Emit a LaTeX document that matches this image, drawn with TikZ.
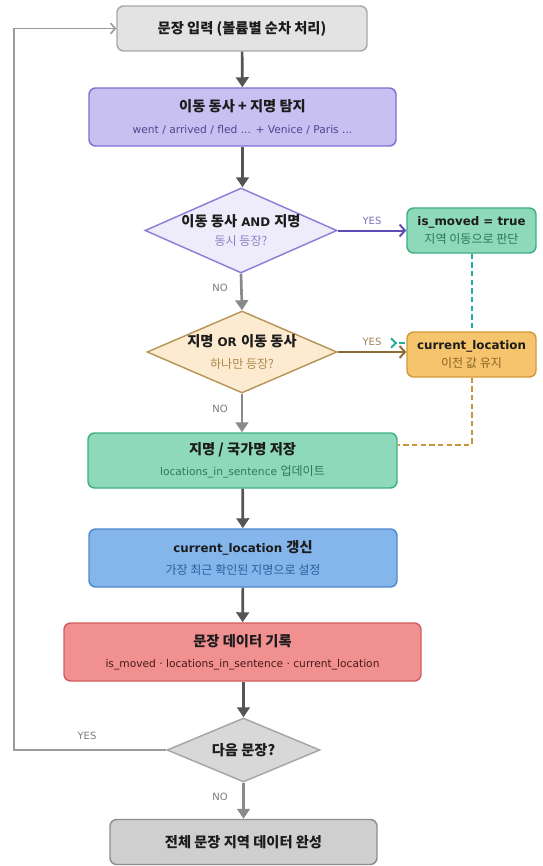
\documentclass[tikz,border=0pt]{standalone}
\usepackage{fontspec}
\setmainfont{DejaVu Sans}
\newfontfamily\kof[Scale=1.2]{Noto Sans CJK KR}
\newfontfamily\kofs[Scale=1.13]{Noto Sans CJK KR}
\newcommand\K[1]{{\kof #1}}
\newcommand\Ks[1]{{\kofs #1}}
\newcommand\tfont{\fontsize{8.9pt}{11pt}\selectfont\bfseries}
\newcommand\sfont{\fontsize{8pt}{10pt}\selectfont}
\usetikzlibrary{shapes.geometric,arrows.meta,backgrounds}
\definecolor{txt}{HTML}{1C1C1C}
\definecolor{grayF}{HTML}{E3E3E3}\definecolor{grayB}{HTML}{A8A8A8}
\definecolor{purF}{HTML}{C8C0F0}\definecolor{purB}{HTML}{7E70D4}\definecolor{purS}{HTML}{4E4690}
\definecolor{dpF}{HTML}{EEECFB}\definecolor{dpB}{HTML}{8B80D8}\definecolor{dpS}{HTML}{8C80C4}
\definecolor{grnF}{HTML}{8ED9B9}\definecolor{grnB}{HTML}{3FAE85}\definecolor{grnS}{HTML}{2A7A5C}
\definecolor{dbF}{HTML}{FCEBD0}\definecolor{dbB}{HTML}{B8955A}\definecolor{dbS}{HTML}{B0884C}
\definecolor{orF}{HTML}{F6C46C}\definecolor{orB}{HTML}{D29A3A}\definecolor{orS}{HTML}{8A6428}
\definecolor{bluF}{HTML}{84B5EB}\definecolor{bluB}{HTML}{4D89CF}\definecolor{bluS}{HTML}{2E5F9C}
\definecolor{redF}{HTML}{F19090}\definecolor{redB}{HTML}{D45E5E}\definecolor{redS}{HTML}{4A1818}
\definecolor{d3F}{HTML}{D8D8D8}\definecolor{d3B}{HTML}{A6A6A6}
\definecolor{finF}{HTML}{CFCFCF}\definecolor{finB}{HTML}{8E8E8E}
\definecolor{arrD}{HTML}{555555}\definecolor{arrG}{HTML}{8A8A8A}\definecolor{loopC}{HTML}{9A9A9A}
\definecolor{yesP}{HTML}{5B4DB5}\definecolor{yesPl}{HTML}{7A70B8}
\definecolor{yesB}{HTML}{8A6A35}\definecolor{yesBl}{HTML}{A08050}
\definecolor{tealC}{HTML}{22AE98}\definecolor{dashB}{HTML}{C8963C}
\definecolor{lbl}{HTML}{7A7A7A}
\begin{document}
\begin{tikzpicture}[x=0.75pt,y=-0.75pt,
  box/.style={draw, rounded corners=5pt, line width=1.1pt, align=center, inner sep=0pt, text=txt},
  dia/.style={draw, diamond, line width=1.1pt, inner sep=0pt},
  dtext/.style={align=center, inner sep=0pt, text=txt},
  sz/.style 2 args={minimum width=#1*0.75pt, minimum height=#2*0.75pt},
  darr/.style={draw=arrD, line width=2pt, -{Triangle[length=7.5pt,width=9.5pt]}},
  garr/.style={draw=arrG, line width=2pt, -{Triangle[length=7.5pt,width=9.5pt]}},
  lab/.style={font=\fontsize{7.5pt}{9pt}\selectfont, text=lbl, inner sep=1pt}]
\useasboundingbox (0,0) rectangle (542,866);

\node[box, fill=grayF, draw=grayB, sz={250}{45}] (n1) at (242,28.5)
  {\K{\tfont 문장 입력 (볼륨별 순차 처리)}};
\node[box, fill=purF, draw=purB, sz={307}{58}] (n2) at (242.5,117)
  {\K{\tfont 이동 동사 + 지명 탐지}\\[4pt]{\sfont\color{purS}went / arrived / fled ... + Venice / Paris ...}};
\node[dia, fill=dpF, draw=dpB, sz={192}{85}] (d1) at (241,230.5) {};
\node[dtext] (d1t) at (d1.center)
  {{\tfont\K{이동 동사} AND \K{지명}}\\[2pt]{\sfont\color{dpS}\Ks{동시 등장?}}};
\node[box, fill=grnF, draw=grnB, sz={129}{45}] (m1) at (471.5,230.5)
  {{\tfont is\_moved = true}\\[2pt]{\sfont\color{grnS}\Ks{지역 이동으로 판단}}};
\node[dia, fill=dbF, draw=dbB, sz={190}{82}] (d2) at (242,352) {};
\node[dtext] (d2t) at (d2.center)
  {{\tfont\K{지명} OR \K{이동 동사}}\\[4pt]{\sfont\color{dbS}\Ks{하나만 등장?}}};
\node[box, fill=orF, draw=orB, sz={129}{45}] (c1) at (471.5,354.5)
  {{\tfont current\_location}\\[2pt]{\sfont\color{orS}\Ks{이전 값 유지}}};
\node[box, fill=grnF, draw=grnB, sz={309}{55}] (n3) at (242.5,460.5)
  {\K{\tfont 지명 / 국가명 저장}\\[4pt]{\sfont\color{grnS}locations\_in\_sentence \Ks{업데이트}}};
\node[box, fill=bluF, draw=bluB, sz={308}{58}] (n4) at (243,558)
  {{\tfont current\_location \K{갱신}}\\[4pt]{\sfont\color{bluS}\Ks{가장 최근 확인된 지명으로 설정}}};
\node[box, fill=redF, draw=redB, sz={357}{58}] (n5) at (242.5,652)
  {\K{\tfont 문장 데이터 기록}\\[4pt]{\sfont\color{redS}is\_moved · locations\_in\_sentence · current\_location}};
\node[dia, fill=d3F, draw=d3B, sz={153}{64}] (d3) at (243.5,750) {};
\node[dtext] (d3t) at (d3.center) {\K{\tfont 다음 문장?}};
\node[box, fill=finF, draw=finB, sz={267}{45}] (n6) at (243.5,842)
  {\K{\tfont 전체 문장 지역 데이터 완성}};

\coordinate (tc) at (471.5,343);
\coordinate (tend) at (390,343);
\coordinate (bc) at (471.5,445);
\coordinate (lp) at (14,400);

\begin{scope}[on background layer]
  \draw[tealC, line width=1.5pt, dash pattern=on 4pt off 2.5pt, -{Straight Barb[reversed,length=3.5pt,width=7pt]}]
    (m1.south) -- (tc) -- (tend);
  \draw[dashB, line width=1.5pt, dash pattern=on 4pt off 2.5pt]
    (c1.south) -- (bc) -- (n3.east |- bc);
\end{scope}

\draw[darr] (n1) -- (n2);
\draw[darr] (n2.south) -- (n2.south |- d1.north);
\draw[garr] (d1.south) -- (d2.north);
\draw[garr] (d2.south) -- (n3.north -| d2.south);
\draw[darr] (n3) -- (n4);
\draw[darr] (n4) -- (n5);
\draw[darr] (n5.south -| d3.north) -- (d3.north);
\draw[garr] (d3) -- (n6);

\draw[yesP, line width=1.5pt, -{Straight Barb[length=4pt,width=9pt]}] (d1.east) -- (m1.west)
  node[pos=0.5, above=3pt, lab, text=yesPl] {YES};
\draw[yesB, line width=1.5pt, -{Straight Barb[length=4pt,width=9pt]}] (d2.east) -- (c1.west |- d2.east)
  node[pos=0.5, above=3pt, lab, text=yesBl] {YES};
\draw[loopC, line width=1.2pt, -{Straight Barb[length=3.5pt,width=8pt]}] (d3.west) -| (lp) |- (n1.west);

\node[lab] (l1) at (220,288) {NO};
\node[lab] (l2) at (220,409) {NO};
\node[lab] (l3) at (220,797) {NO};
\node[lab] (l4) at (87,736) {YES};
\end{tikzpicture}
\end{document}
